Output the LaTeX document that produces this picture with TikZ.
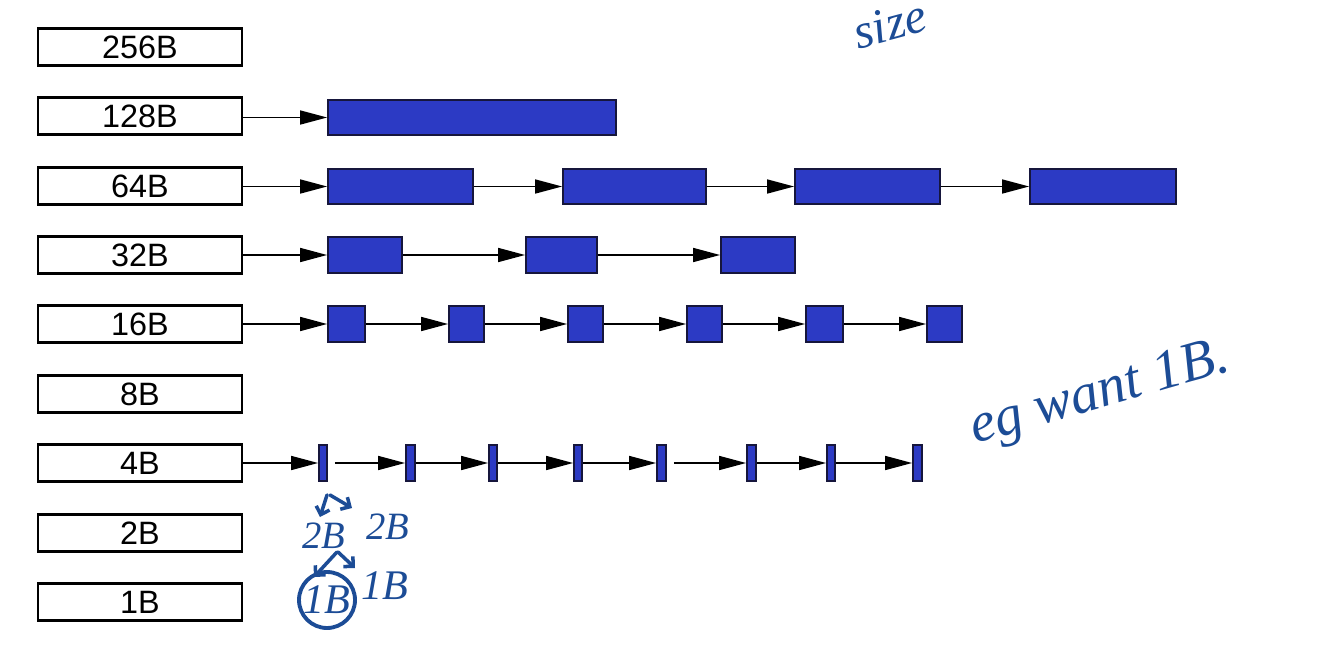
\documentclass[tikz,border=0pt]{standalone}
\usepackage{fontspec}
\setmainfont{Liberation Sans}
\newfontfamily\handfont{Liberation Serif}
\usepackage{xcolor}
\usepackage{tikz}
\usetikzlibrary{positioning,arrows.meta}

\definecolor{chunkblue}{RGB}{44,58,196}
\definecolor{chunkedge}{RGB}{22,22,60}
\definecolor{inkblue}{RGB}{28,76,150}

\tikzset{
  sizebox/.style={draw, line width=0.8pt, minimum width=2.04cm, minimum height=0.37cm, inner sep=0pt, font=\fontsize{9.2}{10}\selectfont},
  chunk/.style={draw=chunkedge, fill=chunkblue, line width=0.5pt, minimum height=0.355cm, inner sep=0pt},
  link/.style={-{Triangle[length=2.7mm,width=1.4mm]}, line width=0.45pt},
  ink/.style={inkblue, inner sep=0pt, font=\handfont\itshape},
  inkline/.style={inkblue, line width=1pt, line cap=round, -{Straight Barb[length=0.7mm,width=1.4mm]}}
}

\begin{document}
\begin{tikzpicture}
				\useasboundingbox (0,0) rectangle (13.3,-6.64);
				
				% size classes
				\node[sizebox] (s256) at (1.40,-0.47) {256B};
				\node[sizebox] (s128) at (1.40,-1.16) {128B};
				\node[sizebox] (s64) at (1.40,-1.86) {64B};
				\node[sizebox] (s32) at (1.40,-2.55) {32B};
				\node[sizebox] (s16) at (1.40,-3.24) {16B};
				\node[sizebox] (s8) at (1.40,-3.94) {8B};
				\node[sizebox] (s4) at (1.40,-4.63) {4B};
				\node[sizebox] (s2) at (1.40,-5.33) {2B};
				\node[sizebox] (s1) at (1.40,-6.02) {1B};
				
				% free blocks
				\node[chunk, minimum width=2.88cm] (c128a) at (4.72,-1.175) {};
				
				\node[chunk, minimum width=1.45cm] (c64a) at (4.005,-1.865) {};
				\node[chunk, minimum width=1.43cm] (c64b) at (6.345,-1.865) {};
				\node[chunk, minimum width=1.45cm] (c64c) at (8.675,-1.865) {};
				\node[chunk, minimum width=1.46cm] (c64d) at (11.03,-1.865) {};
				
				\node[chunk, minimum width=0.74cm] (c32a) at (3.65,-2.55) {};
				\node[chunk, minimum width=0.71cm] (c32b) at (5.615,-2.55) {};
				\node[chunk, minimum width=0.74cm] (c32c) at (7.58,-2.55) {};
				
				\node[chunk, minimum width=0.37cm] (c16a) at (3.465,-3.24) {};
				\node[chunk, minimum width=0.35cm] (c16b) at (4.665,-3.24) {};
				\node[chunk, minimum width=0.35cm] (c16c) at (5.855,-3.24) {};
				\node[chunk, minimum width=0.35cm] (c16d) at (7.045,-3.24) {};
				\node[chunk, minimum width=0.37cm] (c16e) at (8.245,-3.24) {};
				\node[chunk, minimum width=0.35cm] (c16f) at (9.445,-3.24) {};
				
				\node[chunk, minimum width=0.08cm] (c4a) at (3.23,-4.63) {};
				\node[chunk, minimum width=0.09cm] (c4b) at (4.105,-4.63) {};
				\node[chunk, minimum width=0.08cm] (c4c) at (4.93,-4.63) {};
				\node[chunk, minimum width=0.08cm] (c4d) at (5.78,-4.63) {};
				\node[chunk, minimum width=0.09cm] (c4e) at (6.615,-4.63) {};
				\node[chunk, minimum width=0.09cm] (c4f) at (7.515,-4.63) {};
				\node[chunk, minimum width=0.08cm] (c4g) at (8.31,-4.63) {};
				\node[chunk, minimum width=0.09cm] (c4h) at (9.175,-4.63) {};
				
				% free lists
				\draw[link] (s128.east |- c128a) -- (c128a.west);
				\draw[link] (s64.east |- c64a) -- (c64a.west);
				\draw[link] (c64a.east) -- (c64b.west);
				\draw[link] (c64b.east) -- (c64c.west);
				\draw[link] (c64c.east) -- (c64d.west);
				\draw[link] (s32.east |- c32a) -- (c32a.west);
				\draw[link] (c32a.east) -- (c32b.west);
				\draw[link] (c32b.east) -- (c32c.west);
				\draw[link] (s16.east |- c16a) -- (c16a.west);
				\draw[link] (c16a.east) -- (c16b.west);
				\draw[link] (c16b.east) -- (c16c.west);
				\draw[link] (c16c.east) -- (c16d.west);
				\draw[link] (c16d.east) -- (c16e.west);
				\draw[link] (c16e.east) -- (c16f.west);
				\draw[link] (s4.east |- c4a) -- (c4a.west);
				\draw[link, shorten <=0.07cm] (c4a.east) -- (c4b.west);
				\draw[link] (c4b.east) -- (c4c.west);
				\draw[link] (c4c.east) -- (c4d.west);
				\draw[link] (c4d.east) -- (c4e.west);
				\draw[link, shorten <=0.07cm] (c4e.east) -- (c4f.west);
				\draw[link] (c4f.east) -- (c4g.west);
				\draw[link] (c4g.east) -- (c4h.west);
				
				% notes
				\node[ink, rotate=15, font=\handfont\itshape\fontsize{14}{15}\selectfont] (nsize) at (8.9,-0.24) {size};
				\node[ink, rotate=16, font=\handfont\itshape\fontsize{16}{17}\selectfont] (nwant) at (11.0,-3.95) {eg want 1B.};
				\node[ink, font=\handfont\itshape\fontsize{11}{12}\selectfont] (n2a) at (3.24,-5.36) {2B};
				\node[ink, font=\handfont\itshape\fontsize{11}{12}\selectfont] (n2b) at (3.88,-5.27) {2B};
				\node[ink, font=\handfont\itshape\fontsize{12}{13}\selectfont] (n1a) at (3.27,-6.0) {1B};
				\node[ink, font=\handfont\itshape\fontsize{12}{13}\selectfont] (n1b) at (3.85,-5.86) {1B};
				\draw[inkblue, line width=1.1pt] (n1a) circle (0.28);
				\draw[inkline] (3.27,-4.95) -- (3.2,-5.17);
				\draw[inkline] (3.3,-4.95) -- (3.52,-5.08);
				\draw[inkline] (3.37,-5.52) -- (3.14,-5.77);
				\draw[inkline] (3.38,-5.52) -- (3.55,-5.68);
\end{tikzpicture}
\end{document}
